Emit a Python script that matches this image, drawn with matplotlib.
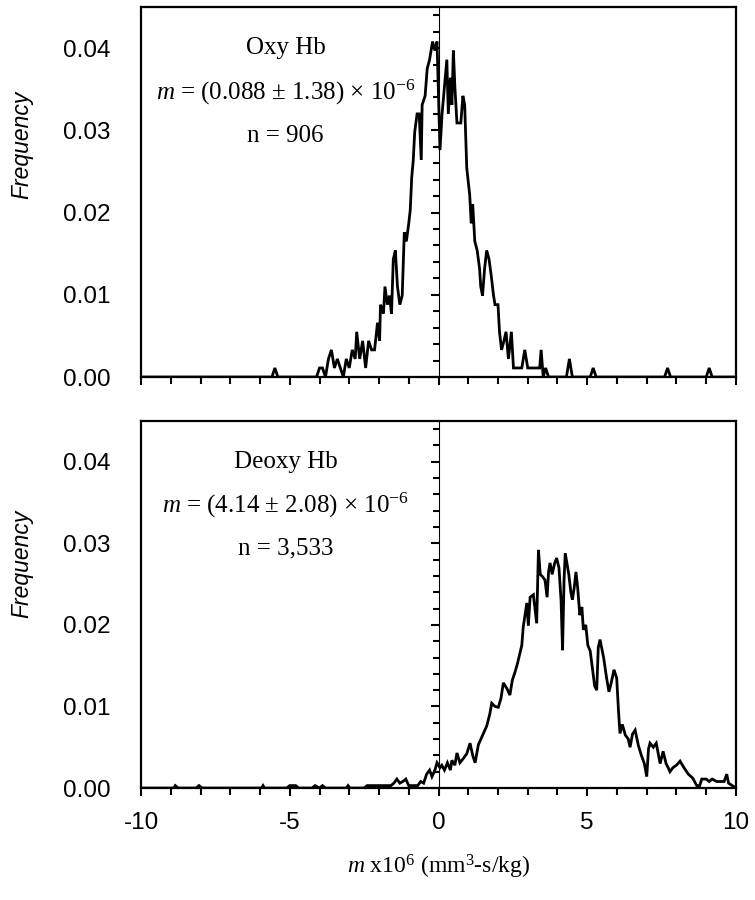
import numpy as np
import matplotlib
matplotlib.use("Agg")
import matplotlib.pyplot as plt
from matplotlib.ticker import MultipleLocator, FormatStrFormatter, NullLocator

plt.rcParams['font.family'] = ['Liberation Sans', 'DejaVu Sans']
plt.rcParams['mathtext.fontset'] = 'custom'
plt.rcParams['mathtext.rm'] = 'Liberation Serif'
plt.rcParams['mathtext.it'] = 'Liberation Serif:italic'
plt.rcParams['axes.unicode_minus'] = False

# frequency polygons
oxy_x = [-10, -5.6, -5.5, -5.4, -4.1, -4.0, -3.9, -3.8, -3.7, -3.6, -3.5, -3.4, -3.3, -3.2,
         -3.1, -3.0, -2.9, -2.8, -2.75, -2.65, -2.55, -2.45, -2.35, -2.25, -2.15, -2.05,
         -1.98, -1.95, -1.85, -1.8, -1.72, -1.65, -1.58, -1.52, -1.45, -1.38, -1.3, -1.22,
         -1.15, -1.08, -1.0, -0.95, -0.9, -0.85, -0.8, -0.72, -0.65, -0.58, -0.55, -0.45,
         -0.38, -0.3, -0.2, -0.12, -0.05, 0.05, 0.12, 0.2, 0.28, 0.33, 0.4, 0.45, 0.5, 0.55,
         0.62, 0.75, 0.82, 0.88, 0.95, 1.05, 1.1, 1.15, 1.22, 1.3, 1.38, 1.42, 1.48, 1.55,
         1.62, 1.7, 1.78, 1.85, 1.9, 2.0, 2.05, 2.12, 2.2, 2.27, 2.35, 2.45, 2.52, 2.8, 2.9,
         3.0, 3.4, 3.45, 3.52, 3.6, 3.7, 4.3, 4.4, 4.5, 5.1, 5.2, 5.3, 7.6, 7.7, 7.8, 9.0,
         9.1, 9.2, 10]
oxy_y = [0, 0, 0.0011, 0, 0, 0.0011, 0.0011, 0.0, 0.0022, 0.0033, 0.0011, 0.0022, 0.0011, 0.0,
         0.0022, 0.0011, 0.0033, 0.0022, 0.0055, 0.0022, 0.0044, 0.0011, 0.0044, 0.0033,
         0.0033, 0.0066, 0.0044, 0.0088, 0.0077, 0.0110, 0.0088, 0.0099, 0.0077, 0.0143,
         0.0154, 0.0110, 0.0088, 0.0099, 0.0176, 0.0165, 0.0187, 0.0203, 0.0243, 0.0263,
         0.0298, 0.0320, 0.0320, 0.0264, 0.0331, 0.0342, 0.0375, 0.0386, 0.0408, 0.0397,
         0.0408, 0.0276, 0.0320, 0.0353, 0.0386, 0.0320, 0.0364, 0.0331, 0.0397, 0.0353,
         0.0309, 0.0309, 0.0342, 0.0331, 0.0254, 0.0221, 0.0187, 0.0210, 0.0165, 0.0154,
         0.0132, 0.0110, 0.0099, 0.0132, 0.0154, 0.0143, 0.0121, 0.0099, 0.0088, 0.0088,
         0.0055, 0.0033, 0.0044, 0.0055, 0.0022, 0.0055, 0.0011, 0.0011, 0.0033, 0.0011,
         0.0011, 0.0033, 0.0, 0.0011, 0.0, 0.0, 0.0022, 0.0, 0, 0.0011, 0, 0, 0.0011, 0, 0,
         0.0011, 0, 0]

deoxy_x = [-10, -8.9, -8.85, -8.75, -8.15, -8.05, -7.95, -5.95, -5.9, -5.85, -5.1, -5.0, -4.8,
           -4.7, -4.25, -4.15, -4.0, -3.9, -3.8, -3.1, -3.04, -2.98, -2.5, -2.4, -1.8, -1.6,
           -1.5, -1.4, -1.3, -1.2, -1.1, -1.0, -0.8, -0.7, -0.6, -0.5, -0.4, -0.3, -0.22,
           -0.12, -0.05, 0.05, 0.11, 0.2, 0.3, 0.4, 0.45, 0.55, 0.62, 0.72, 0.85, 0.95, 1.06,
           1.15, 1.23, 1.34, 1.45, 1.55, 1.62, 1.72, 1.79, 1.9, 2.01, 2.1, 2.18, 2.3, 2.4,
           2.48, 2.57, 2.65, 2.74, 2.8, 2.85, 2.92, 2.97, 3.02, 3.08, 3.19, 3.26, 3.3, 3.33,
           3.36, 3.42, 3.5, 3.58, 3.65, 3.7, 3.75, 3.82, 3.9, 3.97, 4.05, 4.12, 4.17, 4.22,
           4.26, 4.32, 4.38, 4.45, 4.5, 4.56, 4.62, 4.68, 4.75, 4.82, 4.87, 4.95, 5.02, 5.1,
           5.2, 5.25, 5.32, 5.37, 5.43, 5.55, 5.65, 5.73, 5.8, 5.9, 5.99, 6.05, 6.1, 6.18,
           6.28, 6.38, 6.44, 6.52, 6.61, 6.72, 6.82, 6.92, 7.0, 7.06, 7.11, 7.22, 7.32, 7.4,
           7.45, 7.55, 7.65, 7.72, 7.78, 7.88, 8.0, 8.12, 8.25, 8.4, 8.55, 8.68, 8.78, 8.85,
           9.0, 9.1, 9.2, 9.35, 9.5, 9.6, 9.69, 9.75, 10]
deoxy_y = [0, 0, 0.0003, 0, 0, 0.0003, 0, 0, 0.0003, 0, 0, 0.0003, 0.0003, 0, 0, 0.0003, 0.0,
           0.0003, 0, 0, 0.0003, 0, 0, 0.0003, 0.0003, 0.0003, 0.0006, 0.0011, 0.0006, 0.0008,
           0.0011, 0.0003, 0.0003, 0.0003, 0.0008, 0.0006, 0.0017, 0.0022, 0.0014, 0.0022,
           0.0031, 0.0025, 0.0028, 0.0022, 0.0031, 0.0022, 0.0034, 0.0028, 0.0043, 0.0031,
           0.0037, 0.0042, 0.0055, 0.0040, 0.0031, 0.0053, 0.0062, 0.0070, 0.0076, 0.0090,
           0.0104, 0.0100, 0.0099, 0.0110, 0.0129, 0.0122, 0.0114, 0.0132, 0.0142, 0.0152,
           0.0166, 0.0175, 0.0198, 0.0215, 0.0227, 0.0199, 0.0234, 0.0237, 0.0215, 0.0202,
           0.0245, 0.0292, 0.0262, 0.0259, 0.0255, 0.0234, 0.0265, 0.0276, 0.0262, 0.0275,
           0.0282, 0.0270, 0.0230, 0.0169, 0.0255, 0.0288, 0.0275, 0.0262, 0.0240, 0.0231,
           0.0245, 0.0265, 0.0245, 0.0212, 0.0222, 0.0194, 0.0200, 0.0175, 0.0168, 0.0140,
           0.0125, 0.0120, 0.0172, 0.0182, 0.0160, 0.0135, 0.0118, 0.0128, 0.0145, 0.0135,
           0.0095, 0.0067, 0.0078, 0.0065, 0.0060, 0.0050, 0.0066, 0.0071, 0.0052, 0.0040,
           0.0030, 0.0014, 0.0048, 0.0055, 0.0050, 0.0055, 0.0040, 0.0030, 0.0045, 0.0030,
           0.0025, 0.0020, 0.0025, 0.0028, 0.0033, 0.0025, 0.0017, 0.0012, 0.0003, 0.0003,
           0.0011, 0.0011, 0.0008, 0.0011, 0.0008, 0.0008, 0.0008, 0.0017, 0.0006, 0.0]

oxy_text = ["Oxy Hb", r"$m$ = (0.088 ± 1.38) × 10$^{-6}$", "n = 906"]
deoxy_text = ["Deoxy Hb", r"$m$ = (4.14 ± 2.08) × 10$^{-6}$", "n = 3,533"]
ytick_vals = [0.0, 0.01, 0.02, 0.03, 0.04]


def setup(ax, show_xlabels):
    ax.set_xlim(-10, 10)
    ax.set_ylim(0, 0.045)
    for s in ax.spines.values():
        s.set_linewidth(1.6)
    ax.xaxis.set_major_locator(MultipleLocator(5))
    ax.xaxis.set_minor_locator(MultipleLocator(1))
    ax.tick_params(axis='x', which='major', direction='out', length=6, width=1.5,
                   labelsize=17.5, pad=11, labelbottom=show_xlabels)
    ax.tick_params(axis='x', which='minor', direction='out', length=5, width=1.5)
    ax.set_yticks(ytick_vals)
    ax.yaxis.set_major_formatter(FormatStrFormatter('%.2f'))
    ax.yaxis.set_minor_locator(NullLocator())
    ax.tick_params(axis='y', which='both', length=0, labelsize=17.5, pad=22)

    # the y axis with its ticks sits at x = 0
    sec = ax.secondary_yaxis(0.5)
    sec.spines['left'].set_linewidth(1.6)
    sec.yaxis.set_ticks_position('left')
    sec.yaxis.set_major_locator(MultipleLocator(0.01))
    sec.yaxis.set_minor_locator(MultipleLocator(0.002))
    sec.tick_params(which='major', direction='out', length=6, width=1.5,
                    labelleft=False, labelright=False)
    sec.tick_params(which='minor', direction='out', length=4, width=1.5)


def annotate(ax, lines):
    for txt, yy in zip(lines, [0.889, 0.770, 0.652]):
        ax.text(0.243, yy, txt, transform=ax.transAxes, ha='center', va='center',
                fontsize=18, family='Liberation Serif')


fig = plt.figure(figsize=(7.55, 9), dpi=100)
ax1 = fig.add_axes([0.1868, 0.5811, 0.788, 0.4111])
ax2 = fig.add_axes([0.1868, 0.1244, 0.788, 0.4078])

setup(ax1, False)
setup(ax2, True)

ax1.plot(oxy_x, oxy_y, color='black', lw=2.0, solid_joinstyle='miter')
ax2.plot(deoxy_x, deoxy_y, color='black', lw=2.0, solid_joinstyle='miter')

annotate(ax1, oxy_text)
annotate(ax2, deoxy_text)

fig.text(0.029, 0.839, "Frequency", rotation=90, ha='center', va='center',
         fontsize=16.5, style='italic')
fig.text(0.029, 0.373, "Frequency", rotation=90, ha='center', va='center',
         fontsize=16.5, style='italic')

ax2.set_xlabel(r"$m$ x10$^{6}$ (mm$^{3}$-s/kg)", fontsize=17,
               family='Liberation Serif', labelpad=14)

fig.savefig("out.png", dpi=100)
